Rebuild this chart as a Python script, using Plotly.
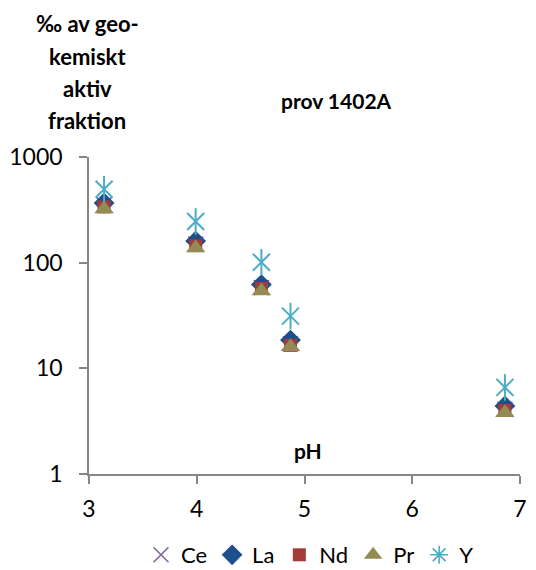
import plotly.graph_objects as go

# pH of each leaching step
ph = [3.14, 3.99, 4.60, 4.87, 6.86]

# Per-mille of the geochemically active fraction, one list per element
ce = [352, 150, 58, 17.0, 4.1]
la = [367, 160, 62, 18.5, 4.4]
nd = [337, 145, 57, 16.5, 4.0]
pr = [322, 138, 54, 16.0, 3.8]
y_el = [495, 245, 101, 31.2, 6.6]

x_ticks = [3, 4, 5, 6, 7]
y_ticks = [1, 10, 100, 1000]
y_tick_text = ["1", "10", "100", "1000"]

FONT = "Lato, 'Open Sans', sans-serif"

# plot-area geometry in pixels
L, R, T, B = 89, 16, 157, 96
W, H = 536, 570
PW, PH = W - L - R, H - T - B

fig = go.Figure()

fig.add_trace(go.Scatter(
    x=ph, y=ce, mode="markers", name="Ce", legendgroup="Ce",
    marker=dict(symbol="x-thin", size=15, color="#8064A2",
                line=dict(color="#8064A2", width=1.6))))
fig.add_trace(go.Scatter(
    x=ph, y=la, mode="markers", name="La", legendgroup="La",
    marker=dict(symbol="diamond", size=16, color="#1F4E8C",
                line=dict(width=0))))
fig.add_trace(go.Scatter(
    x=ph, y=nd, mode="markers", name="Nd", legendgroup="Nd",
    marker=dict(symbol="square", size=13, color="#A33B38",
                line=dict(width=0))))
fig.add_trace(go.Scatter(
    x=ph, y=pr, mode="markers", name="Pr", legendgroup="Pr",
    marker=dict(symbol="triangle-up", size=17, color="#948A54",
                line=dict(width=0))))

# Six-armed star for Y: diagonal cross plus a vertical stroke
fig.add_trace(go.Scatter(
    x=ph, y=y_el, mode="markers", name="Y", legendgroup="Y", showlegend=False,
    marker=dict(symbol="x-thin", size=17, color="#4BACC6",
                line=dict(color="#4BACC6", width=2))))
fig.add_trace(go.Scatter(
    x=ph, y=y_el, mode="markers", name="Y", legendgroup="Y", showlegend=False,
    marker=dict(symbol="line-ns", size=19, color="#4BACC6",
                line=dict(color="#4BACC6", width=2))))
fig.add_trace(go.Scatter(
    x=[None], y=[None], mode="markers", name="Y", legendgroup="Y",
    marker=dict(symbol="asterisk", size=15, color="#4BACC6",
                line=dict(color="#4BACC6", width=1.6))))

axis_line = "#868686"

fig.update_xaxes(
    range=[3, 7], tickvals=x_ticks, ticks="outside", ticklen=8,
    tickcolor=axis_line, tickwidth=1.5, showline=True, linecolor=axis_line,
    linewidth=1.5, showgrid=False, zeroline=False, ticklabelstandoff=6,
    tickfont=dict(family=FONT, size=23, color="#000000"))
fig.update_yaxes(
    type="log", range=[0, 3], tickvals=y_ticks, ticktext=y_tick_text,
    ticks="outside", ticklen=8, tickcolor=axis_line, tickwidth=1.5,
    showline=True, linecolor=axis_line, linewidth=1.5, showgrid=False,
    zeroline=False, ticklabelstandoff=12,
    tickfont=dict(family=FONT, size=23, color="#000000"))


def px_to_paper(px_x, px_y):
    return (px_x - L) / PW, (H - B - px_y) / PH


annotations = []
title_lines = ["‰ av geo-", "kemiskt", "aktiv", "fraktion"]
for i, line in enumerate(title_lines):
    ax, ay = px_to_paper(87, 24 + 32 * i)
    annotations.append(dict(
        text=f"<b>{line}</b>", xref="paper", yref="paper", x=ax, y=ay,
        xanchor="center", yanchor="middle", showarrow=False,
        font=dict(family=FONT, size=22, color="#000000")))
ax, ay = px_to_paper(336, 100)
annotations.append(dict(
    text="<b>prov 1402A</b>", xref="paper", yref="paper", x=ax, y=ay,
    xanchor="center", yanchor="middle", showarrow=False,
    font=dict(family=FONT, size=21, color="#000000")))
ax, ay = px_to_paper(308, 450)
annotations.append(dict(
    text="<b>pH</b>", xref="paper", yref="paper", x=ax, y=ay,
    xanchor="center", yanchor="middle", showarrow=False,
    font=dict(family=FONT, size=21, color="#000000")))

lx, ly = px_to_paper(310, 555)
fig.update_layout(
    width=W, height=H,
    margin=dict(l=L, r=R, t=T, b=B, autoexpand=False),
    paper_bgcolor="white", plot_bgcolor="white",
    showlegend=True,
    legend=dict(orientation="h", x=lx, xanchor="center",
                y=ly, yanchor="middle",
                font=dict(family=FONT, size=22, color="#000000"),
                itemwidth=30, tracegroupgap=0, bgcolor="rgba(0,0,0,0)"),
    annotations=annotations)

fig.write_html("out.html")
